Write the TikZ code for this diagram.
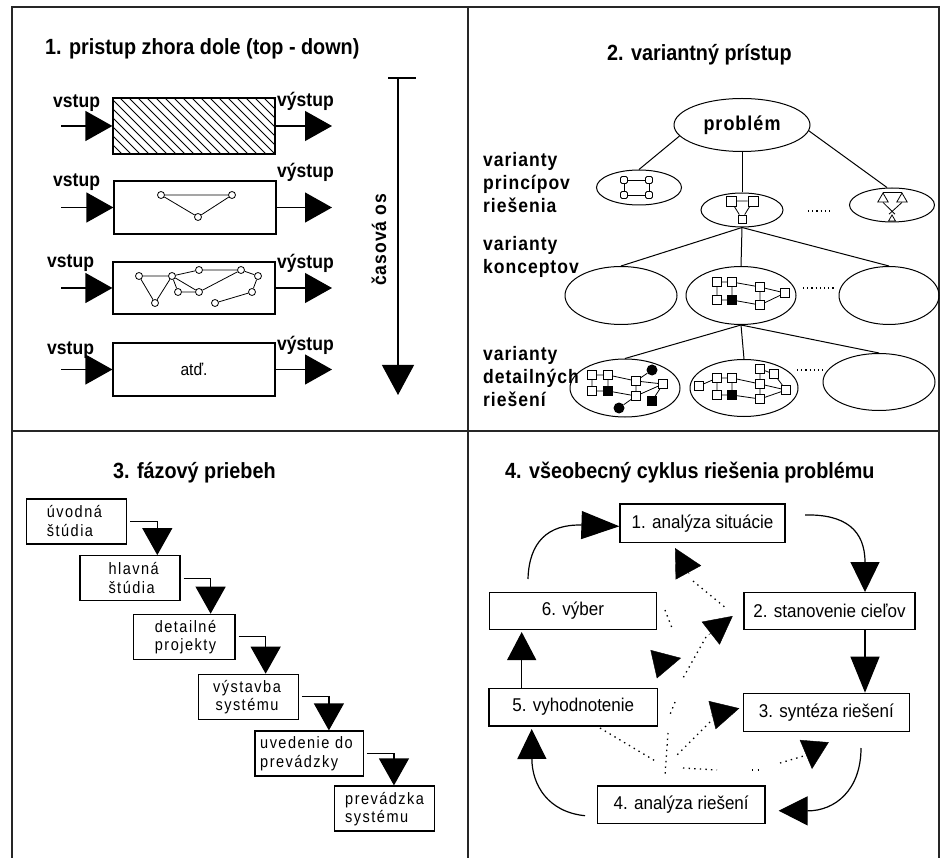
\documentclass[tikz,border=0pt]{standalone}
\usepackage{fontspec}
\setmainfont{Liberation Sans}
\newfontfamily\headface[FakeStretch=0.9]{Liberation Sans}
\newfontfamily\labelface[FakeStretch=0.9,LetterSpace=5]{Liberation Sans}
\newfontfamily\wideface[FakeStretch=0.88,LetterSpace=9]{Liberation Sans}
\newfontfamily\cycface[FakeStretch=0.92]{Liberation Sans}
\usetikzlibrary{arrows.meta,shapes.geometric,calc}

\begin{document}
\begin{tikzpicture}[x=1pt,y=-1pt,
  rule/.style={line width=1.4pt,black!85},
  heading/.style={font=\headface\fontsize{22}{26}\selectfont\bfseries,anchor=base west,inner sep=0},
  lbl/.style={font=\headface\fontsize{19.5}{23}\selectfont\bfseries,inner sep=0,align=left},
  vlbl/.style={font=\labelface\fontsize{19.5}{23}\selectfont\bfseries,inner sep=0,align=left},
  flowbox/.style={draw,line width=1.2pt,minimum width=162pt,inner sep=0},
  bigtip/.style={-{Triangle[length=27pt,width=30pt]},line width=1.2pt},
  gnode/.style={circle,draw,fill=white,line width=0.8pt,minimum size=7pt,inner sep=0},
  glink/.style={line width=0.8pt},
  oval/.style={ellipse,draw,line width=1pt,inner sep=0},
  branch/.style={line width=1pt},
  sq/.style={rectangle,draw,fill=white,line width=0.8pt,minimum size=9pt,inner sep=0},
  sqb/.style={sq,fill=black},
  blob/.style={circle,fill=black,minimum size=11pt,inner sep=0},
  rsq/.style={rectangle,rounded corners=1.5pt,draw,fill=white,line width=0.8pt,minimum size=7pt,inner sep=0},
  tri/.style={regular polygon,regular polygon sides=3,draw,fill=white,line width=0.8pt,minimum size=12pt,inner sep=0},
  dotrow/.style={line width=1.2pt,dash pattern=on 1.2pt off 3pt},
  phase/.style={draw,line width=1.2pt,minimum width=100pt,minimum height=45pt,inner sep=0},
  phasetext/.style={font=\wideface\fontsize{16.5}{18.5}\selectfont,inner sep=0},
  phasetip/.style={-{Triangle[length=27pt,width=30pt]},line width=1.2pt},
  cyc/.style={draw,line width=1.2pt,inner sep=0,font=\cycface\fontsize{18.5}{21}\selectfont},
  cyctip/.style={-{Triangle[length=30pt,width=29pt]},line width=1.2pt},
  fbline/.style={line width=1.3pt,dash pattern=on 1.4pt off 4.2pt},
  fbtip/.style={-{Triangle[length=28pt,width=29pt]},line width=0.4pt}
]
\useasboundingbox (0,0) rectangle (942,858);
\fill[white] (0,0) rectangle (942,858);

% ---------- frame of the four panels ----------
\draw[rule] (12,858) -- (12,7) -- (939,7) -- (939,858);
\draw[rule] (468,7) -- (468,858);
\draw[rule] (12,431) -- (939,431);

% ---------- headings ----------
\node[heading] (h1) at (45,55) {1. pristup zhora dole (top - down)};
\node[heading] (h2) at (607,61) {2. variantný prístup};
\node[heading] (h3) at (113,478) {3. fázový priebeh};
\node[heading] (h4) at (505,478) {4. všeobecný cyklus riešenia problému};

% ================= panel 1: top-down =================
\node[flowbox,minimum height=56pt] (r1) at (194,126) {};
\begin{scope}
  \clip (r1.north west) rectangle (r1.south east);
  \foreach \k in {0,...,25}
    \draw[line width=0.8pt] ($(r1.north west)+(\k*9-56,0)$) -- ++(56,56);
\end{scope}
\node[flowbox,minimum height=53pt] (r2) at (195,207.5) {};
\node[flowbox,minimum height=52pt] (r3) at (194,288) {};
\node[flowbox,minimum height=53pt,font=\cycface\fontsize{17}{20}\selectfont] (r4) at (194,369.5) {atď.};

\foreach \r/\y in {r1/126,r2/207.5,r3/288,r4/369.5}{
  \coordinate (\r-a) at (61,\y);
  \coordinate (\r-b) at (332,\y);
  \draw[bigtip] (\r-a) -- (\r.west);
  \draw[bigtip] (\r.east) -- (\r-b);
}

\node[lbl,anchor=west] (vi1) at (53,103) {vstup};
\node[lbl,anchor=west] (vo1) at (277,101) {výstup};
\node[lbl,anchor=west] (vi2) at (53,182) {vstup};
\node[lbl,anchor=west] (vo2) at (277,172) {výstup};
\node[lbl,anchor=west] (vi3) at (47,263) {vstup};
\node[lbl,anchor=west] (vo3) at (277,263) {výstup};
\node[lbl,anchor=west] (vi4) at (47,350) {vstup};
\node[lbl,anchor=west] (vo4) at (277,345) {výstup};

% small graph in the second box
\node[gnode] (p1) at (161,195) {};
\node[gnode] (p2) at (232,195) {};
\node[gnode] (p3) at (198,217) {};
\draw[glink] (p1) -- (p2) -- (p3) -- (p1);

% network in the third box
\node[gnode] (na) at (139,276) {};
\node[gnode] (nb) at (172,276) {};
\node[gnode] (nc) at (199,270) {};
\node[gnode] (nd) at (241,270) {};
\node[gnode] (ne) at (258,276) {};
\node[gnode] (nf) at (178,292) {};
\node[gnode] (ng) at (199,292) {};
\node[gnode] (nh) at (252,292) {};
\node[gnode] (ni) at (155,303) {};
\node[gnode] (nj) at (215,303) {};
\draw[glink] (na) -- (nb) (na) -- (ni) (nb) -- (ni) (nb) -- (nc) (nc) -- (nd)
  (nd) -- (ne) (ne) -- (nh) (nb) -- (nf) (nb) -- (ng) (nf) -- (ng)
  (ng) -- (nd) (nj) -- (nh);

% time axis
\coordinate (tkl) at (388,78);
\coordinate (tkr) at (416,78);
\coordinate (axtop) at (398,78);
\coordinate (axend) at (398,395);
\draw[line width=1.2pt] (tkl) -- (tkr);
\draw[-{Triangle[length=30pt,width=32pt]},line width=1.2pt] (axtop) -- (axend);
\node[vlbl,rotate=90] (axlbl) at (379,240) {časová os};

% ================= panel 2: variants =================
\node[oval,minimum width=136pt,minimum height=53pt,font=\labelface\fontsize{20}{23}\selectfont\bfseries] (prob) at (742,125) {problém};
\node[oval,minimum width=85pt,minimum height=35pt] (la) at (639,187.5) {};
\node[oval,minimum width=82pt,minimum height=34pt] (lb) at (742,210) {};
\node[oval,minimum width=85pt,minimum height=34pt] (lc) at (892,205) {};
\node[oval,minimum width=112pt,minimum height=58pt] (ma) at (621,295.5) {};
\node[oval,minimum width=110pt,minimum height=58pt] (mb) at (741,295.5) {};
\node[oval,minimum width=100pt,minimum height=58pt] (mc) at (889,295.5) {};
\node[oval,minimum width=110pt,minimum height=58pt] (da) at (625,388) {};
\node[oval,minimum width=108pt,minimum height=57pt] (db) at (744,388) {};
\node[oval,minimum width=112pt,minimum height=57pt] (dc) at (879,382) {};

\draw[branch] (prob.190) -- (la.north);
\draw[branch] (prob.south) -- (lb.north);
\draw[branch] (prob.355) -- ([xshift=-5pt]lc.north);
\draw[branch] (lb.south) -- (ma.north);
\draw[branch] (lb.south) -- (mb.north);
\draw[branch] (lb.south) -- (mc.north);
\draw[branch] (mb.south) -- (da.north);
\draw[branch] (mb.south) -- (db.north);
\draw[branch] (mb.south) -- (dc.north);

\coordinate (dt1a) at (808,211); \coordinate (dt1b) at (833,211);
\coordinate (dt2a) at (803,288); \coordinate (dt2b) at (835,288);
\coordinate (dt3a) at (797,370); \coordinate (dt3b) at (824,370);
\draw[dotrow] (dt1a) -- (dt1b);
\draw[dotrow] (dt2a) -- (dt2b);
\draw[dotrow] (dt3a) -- (dt3b);

\node[vlbl,anchor=west] (lv1) at (483,183) {varianty\\princípov\\riešenia};
\node[vlbl,anchor=west] (lv2) at (483,257) {varianty\\konceptov};
\node[vlbl,anchor=west] (lv3) at (483,377) {varianty\\detailných\\riešení};

% contents of the first-level ovals
\node[rsq] (la1) at (624,180) {};
\node[rsq] (la2) at (649,180) {};
\node[rsq] (la3) at (624,195) {};
\node[rsq] (la4) at (649,195) {};
\draw[glink] (la1) -- (la2) -- (la4) -- (la3) -- (la1);

\node[sq,minimum size=10pt] (lb1) at (731,201) {};
\node[sq,minimum size=10pt] (lb2) at (753,201) {};
\node[sq,minimum size=8pt] (lb3) at (742,219) {};
\draw[glink] (lb1) -- (lb2) (lb1) -- (lb3) (lb2) -- (lb3);

\node[tri] (lc1) at (883,199) {};
\node[tri] (lc2) at (902,199) {};
\node[tri,minimum size=8pt] (lc3) at (892,219) {};
\draw[glink] (lc1.corner 1) -- (lc2.corner 1);
\draw[glink] (lc1.south) -- ($(lc3.north)+(3,0)$);
\draw[glink] (lc2.south) -- ($(lc3.north)+(-3,0)$);

% contents of the concept oval
\node[sq] (m1) at (717,282) {};
\node[sq] (m2) at (732,282) {};
\node[sq] (m3) at (717,300) {};
\node[sqb] (m4) at (732,300) {};
\node[sq] (m5) at (760,287) {};
\node[sq] (m6) at (760,305) {};
\node[sq] (m7) at (785,293) {};
\draw[glink] (m1) -- (m2) (m1) -- (m3) (m2) -- (m4) (m3) -- (m4) (m2) -- (m5)
  (m4) -- (m6) (m5) -- (m6) (m5) -- (m7) (m6) -- (m7);

% contents of the detailed-solution ovals
\node[sq] (q1) at (592,375) {};
\node[sq] (q2) at (608,375) {};
\node[sq] (q3) at (592,391) {};
\node[sqb] (q4) at (608,391) {};
\node[sq] (q5) at (636,381) {};
\node[sq] (q6) at (663,384) {};
\node[sq] (q7) at (636,396) {};
\node[sqb] (q8) at (652,401) {};
\node[blob] (k1) at (652,370) {};
\node[blob] (k2) at (619,408) {};
\draw[glink] (q1) -- (q2) (q1) -- (q3) (q3) -- (q4) (q2) -- (q4) (q2) -- (q5)
  (q4) -- (q7) (q5) -- (q7) (q5) -- (q6) (q7) -- (q6) (q5) -- (k1) (q7) -- (k2) (q6) -- (q8);

\node[sq] (w0) at (699,386) {};
\node[sq] (w1) at (717,378) {};
\node[sq] (w2) at (732,378) {};
\node[sq] (w3) at (717,395) {};
\node[sqb] (w4) at (732,395) {};
\node[sq] (w5) at (760,369) {};
\node[sq] (w6) at (774,374) {};
\node[sq] (w7) at (760,384) {};
\node[sq] (w8) at (786,390) {};
\node[sq] (w9) at (760,399) {};
\draw[glink] (w0) -- (w1) (w1) -- (w2) (w1) -- (w3) (w2) -- (w4) (w3) -- (w4)
  (w2) -- (w7) (w4) -- (w9) (w5) -- (w7) (w7) -- (w9) (w7) -- (w8) (w9) -- (w8)
  (w6) -- (w8) (w5) -- (w6);

% ================= panel 3: phases =================
\node[phase] (f1) at (76.7,521.5) {};
\node[phase] (f2) at (130,578.2) {};
\node[phase,minimum width=101.7pt] (f3) at (184.2,636.8) {};
\node[phase] (f4) at (248.3,696.8) {};
\node[phase,minimum width=108.3pt] (f5) at (309.2,753.5) {};
\node[phase] (f6) at (384.3,808.5) {};

\node[phasetext,anchor=west,align=left] (f1t) at (46.7,521) {úvodná\\štúdia};
\node[phasetext,anchor=west,align=left] (f2t) at (108.3,578) {hlavná\\štúdia};
\node[phasetext,align=center] (f3t) at (185.5,637) {detailné\\projekty};
\node[phasetext,align=center] (f4t) at (247,697) {výstavba\\systému};
\node[phasetext,anchor=west,align=left] (f5t) at (260,753.7) {uvedenie do\\prevádzky};
\node[phasetext,anchor=west,align=left] (f6t) at (345,809) {prevádzka\\systému};

\foreach \a/\b in {f1/f2,f2/f3,f3/f4,f4/f5,f5/f6}{
  \path ($(\a.east)+(3,0)$) coordinate (\a-s) ($(\a.east)+(30,0)$) coordinate (\a-k);
  \draw[phasetip] (\a-s) -- (\a-k) -- (\a-k |- \b.north);
}

% ================= panel 4: problem-solving cycle =================
\node[cyc,minimum width=165pt,minimum height=38.7pt] (cy1) at (702.5,523.3) {1. analýza situácie};
\node[cyc,minimum width=171pt,minimum height=37pt] (cy2) at (829.5,610.8) {2. stanovenie cieľov};
\node[cyc,minimum width=166pt,minimum height=38.4pt] (cy3) at (826.3,712.5) {3. syntéza riešení};
\node[cyc,minimum width=167.7pt,minimum height=37.3pt] (cy4) at (681.2,804.7) {4. analýza riešení};
\node[cyc,minimum width=168.7pt,minimum height=37.7pt] (cy5) at (573.3,707.2) {5. vyhodnotenie};
\node[cyc,minimum width=167.4pt,minimum height=37pt] (cy6) at (573,610.8) {6. výber};

\coordinate (s61) at (528,579);
\coordinate (s12) at (805,515);
\coordinate (e12) at (865,592);
\coordinate (s34) at (861,748);
\coordinate (e34) at ($(cy4.east)+(13,6)$);
\coordinate (s45) at (585,815.7);
\coordinate (e45) at (531.7,729);
\coordinate (s56) at (521.7,688.3);
\coordinate (e56) at (521.7,632);

\draw[-{Triangle[length=38pt,width=28pt]},line width=1.2pt]
  (s61) .. controls (529,542) and (548,524) .. ($(cy1.west)+(0,3)$);
\draw[cyctip] (s12) .. controls (845,514) and (865,530) .. (e12);
\draw[-{Triangle[length=36pt,width=29pt]},line width=1.2pt] (e12 |- cy2.south) -- (e12 |- cy3.north);
\draw[-{Triangle[length=29pt,width=29pt]},line width=1.2pt]
  (s34) .. controls (861,790) and (835,811) .. (e34);
\draw[cyctip] (s45) .. controls (548,812) and (532,785) .. (e45);
\draw[-{Triangle[length=28pt,width=29pt]},line width=1.2pt] (s56) -- (e56);

% dotted feedback paths
\coordinate (da1) at (693,581); \coordinate (da2) at (727,609);
\coordinate (db1) at (665,610); \coordinate (db2) at (672,628);
\coordinate (dc1) at (706,637); \coordinate (dc2) at (683,678);
\coordinate (dd1) at (675,702); \coordinate (dd2) at (669,717);
\coordinate (de1) at (710,722); \coordinate (de2) at (677,755);
\coordinate (df1) at (600,728); \coordinate (df2) at (657,762);
\coordinate (dg1) at (668,733); \coordinate (dg2) at (665,775);
\coordinate (dh1) at (683,768); \coordinate (dh2) at (717,770);
\coordinate (di1) at (752,770); \coordinate (di2) at (760,770);
\coordinate (dj1) at (780,763); \coordinate (dj2) at (807,755);
\foreach \p in {da,db,dc,dd,de,df,dg,dh,di,dj}
  \draw[fbline] (\p1) -- (\p2);

\coordinate (ta0) at (689.2,574);   \coordinate (ta1) at (675,548);
\coordinate (tb0) at (708.8,634.7); \coordinate (tb1) at (732.7,616);
\coordinate (tc0) at (654.5,664);   \coordinate (tc1) at (681,658);
\coordinate (td0) at (711.3,715.3); \coordinate (td1) at (739.3,708.3);
\coordinate (te0) at (814.2,741.7); \coordinate (te1) at (812,769);
\foreach \p in {ta,tb,tc,td,te}
  \draw[fbtip] (\p0) -- (\p1);

\end{tikzpicture}
\end{document}
